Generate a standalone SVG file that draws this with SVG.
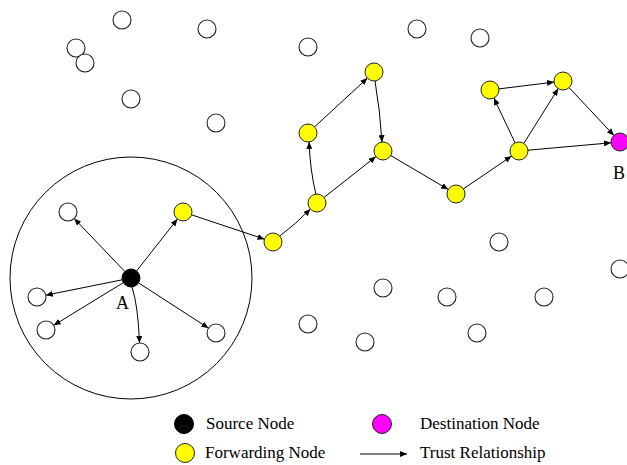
<svg xmlns="http://www.w3.org/2000/svg" width="627" height="465" viewBox="0 0 627 465">
<style>
.n{fill:#fff;stroke:#222;stroke-width:1.1}
.f{fill:#ffff00;stroke:#222;stroke-width:1}
.s{fill:#000;stroke:#000;stroke-width:1}
.d{fill:#ff00ff;stroke:#222;stroke-width:1}
.e{fill:none;stroke:#000;stroke-width:1;marker-end:url(#ah)}
.t{font-family:"Liberation Serif","Times New Roman",serif;font-size:17px;fill:#000}
.l{font-family:"Liberation Serif","Times New Roman",serif;font-size:18px;fill:#000}
</style>
<defs>
<marker id="ah" markerUnits="userSpaceOnUse" markerWidth="8" markerHeight="6" refX="7" refY="3" orient="auto">
<path d="M0,0 L7,3 L0,6 z" fill="#000"/>
</marker>
</defs>
<rect width="627" height="465" fill="#fff"/>
<g id="range"><circle cx="131" cy="278" r="121" fill="none" stroke="#000" stroke-width="1"/></g>
<g id="connectors">
<path class="e" d="M124.8,271.5 L74.2,218.5"/>
<path class="e" d="M136.6,270.9 L177.4,219.1"/>
<path class="e" d="M122.2,279.8 L45.8,295.2"/>
<path class="e" d="M123.3,282.7 L53.7,325.3"/>
<path class="e" d="M132,287 Q138,305 139.5,343"/>
<path class="e" d="M138.6,282.9 L208.4,328.1"/>
<path class="e" d="M191.5,214.8 L264.5,239.2"/>
<path class="e" d="M279.7,236 Q296,224 310.3,209"/>
<path class="e" d="M315.9,194.1 Q310,170 309.1,141.9"/>
<path class="e" d="M324.1,197.4 L375.9,156.6"/>
<path class="e" d="M314.6,126.9 L367.4,78.1"/>
<path class="e" d="M375,80.9 Q380,110 382,142.1"/>
<path class="e" d="M390.8,155.6 L448.2,189.4"/>
<path class="e" d="M463.4,188.9 L511.6,156.1"/>
<path class="e" d="M515.1,142.9 L493.9,98.1"/>
<path class="e" d="M523.8,143.4 L558.2,88.6"/>
<path class="e" d="M528,150.2 L611,142.8"/>
<path class="e" d="M498.9,88.9 L554.1,82.1"/>
<path class="e" d="M569.1,87.6 L613.9,135.4"/>
</g>
<g id="nodes-empty">
<circle id="e1" class="n" cx="122" cy="20" r="9"/>
<circle id="e2" class="n" cx="207" cy="29" r="9"/>
<circle id="e3" class="n" cx="76" cy="48" r="9"/>
<circle id="e4" class="n" cx="85" cy="63" r="9"/>
<circle id="e5" class="n" cx="131" cy="99" r="9"/>
<circle id="e6" class="n" cx="216" cy="123" r="9"/>
<circle id="e7" class="n" cx="308" cy="47" r="9"/>
<circle id="e8" class="n" cx="417" cy="29" r="9"/>
<circle id="e9" class="n" cx="480" cy="38" r="9"/>
<circle id="e10" class="n" cx="499" cy="242" r="9"/>
<circle id="e11" class="n" cx="620" cy="269" r="9"/>
<circle id="e12" class="n" cx="383" cy="288" r="9"/>
<circle id="e13" class="n" cx="447" cy="297" r="9"/>
<circle id="e14" class="n" cx="544" cy="297" r="9"/>
<circle id="e15" class="n" cx="308" cy="324" r="9"/>
<circle id="e16" class="n" cx="365" cy="342" r="9"/>
<circle id="e17" class="n" cx="477" cy="333" r="9"/>
<circle id="e18" class="n" cx="68" cy="212" r="9"/>
<circle id="e19" class="n" cx="37" cy="297" r="9"/>
<circle id="e20" class="n" cx="46" cy="330" r="9"/>
<circle id="e21" class="n" cx="140" cy="352" r="9"/>
<circle id="e22" class="n" cx="216" cy="333" r="9"/>
</g>
<g id="nodes-forwarding">
<circle id="f1" class="f" cx="183" cy="212" r="9"/>
<circle id="f2" class="f" cx="273" cy="242" r="9"/>
<circle id="f3" class="f" cx="317" cy="203" r="9"/>
<circle id="f4" class="f" cx="308" cy="133" r="9"/>
<circle id="f5" class="f" cx="374" cy="72" r="9"/>
<circle id="f6" class="f" cx="383" cy="151" r="9"/>
<circle id="f7" class="f" cx="456" cy="194" r="9"/>
<circle id="f8" class="f" cx="519" cy="151" r="9"/>
<circle id="f9" class="f" cx="490" cy="90" r="9"/>
<circle id="f10" class="f" cx="563" cy="81" r="9"/>
</g>
<g id="nodeA"><circle class="s" cx="131" cy="278" r="9"/><text class="l" x="116" y="309">A</text></g>
<g id="nodeB"><circle class="d" cx="620" cy="142" r="9"/><text class="l" x="613" y="179">B</text></g>
<g id="legend">
<circle class="s" cx="184" cy="424" r="9.5"/><text class="t" x="206" y="429">Source Node</text>
<circle class="d" cx="382" cy="424" r="9.5"/><text class="t" x="420" y="429">Destination Node</text>
<circle class="f" cx="185" cy="453" r="9.5"/><text class="t" x="205" y="458">Forwarding Node</text>
<path class="e" d="M360,454 L407,454"/><text class="t" x="420" y="458">Trust Relationship</text>
</g>
</svg>
